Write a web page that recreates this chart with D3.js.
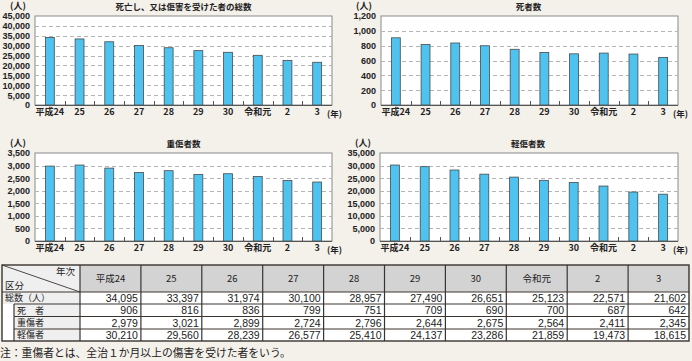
<!DOCTYPE html>
<html><head><meta charset="utf-8">
<script src="https://cdn.jsdelivr.net/npm/d3@7"></script>
<style>
html,body{margin:0;padding:0;background:#f4f0ea;}
svg{display:block;}
</style></head>
<body><svg id="c" width="692" height="361"></svg>
<script>
const years = ["平成24","25","26","27","28","29","30","令和元","2","3"];
const totals = [34095,33397,31974,30100,28957,27490,26651,25123,22571,21602];
const deaths = [906,816,836,799,751,709,690,700,687,642];
const serious = [2979,3021,2899,2724,2796,2644,2675,2564,2411,2345];
const minor = [30210,29560,28239,26577,25410,24137,23286,21859,19473,18615];
const titles = ["死亡し、又は傷害を受けた者の総数","死者数","重傷者数","軽傷者数"];
const yMax = [45000,1200,3500,35000];
const yStep = [5000,200,500,5000];
const rowLabels = ["総数（人）","死　者","重傷者","軽傷者"];
const note = "注：重傷者とは、全治１か月以上の傷害を受けた者をいう。";

const svg = d3.select("#c");
const JP = "'Noto Sans CJK JP','Noto Sans',sans-serif";
const NUM = "'Liberation Sans',Arial,sans-serif";
svg.append("rect").attr("width",692).attr("height",361).attr("fill","#f4f0ea");

const panels = [
  {vals: totals, L:35, R:332, T:16, B:105},
  {vals: deaths, L:381, R:678, T:16, B:105},
  {vals: serious, L:35, R:332, T:153, B:241},
  {vals: minor, L:380, R:678, T:153, B:241}
];

panels.forEach((p,i)=>{
  const g = svg.append("g");
  const x = d3.scaleBand().domain(years).range([p.L,p.R]).paddingInner(0.7).paddingOuter(0.35);
  const y = d3.scaleLinear().domain([0,yMax[i]]).range([p.B,p.T]);
  const ticks = d3.range(0, yMax[i]+1, yStep[i]);
  g.append("rect").attr("x",p.L).attr("y",p.T).attr("width",p.R-p.L).attr("height",p.B-p.T)
    .attr("fill","#fff").attr("stroke","#8a8a8a").attr("stroke-width",1);
  g.selectAll(".grid").data(ticks.filter(t=>t>0 && t<yMax[i])).enter().append("line")
    .attr("x1",p.L).attr("x2",p.R).attr("y1",d=>Math.round(y(d))+0.5).attr("y2",d=>Math.round(y(d))+0.5)
    .attr("stroke","#b5b5b5").attr("stroke-dasharray","4,3").attr("stroke-width",1);
  const ya = d3.axisLeft(y).tickValues(ticks).tickSize(0).tickPadding(5).tickFormat(d3.format(","));
  const ag = g.append("g").attr("transform",`translate(${p.L},0)`).call(ya);
  ag.select(".domain").remove();
  ag.selectAll("text").attr("font-family",NUM).attr("font-weight","bold").attr("font-size","9px").attr("fill","#222");
  const step = x.step();
  g.selectAll(".ct").data(years.slice(1)).enter().append("line")
    .attr("x1",d=>Math.round(x(d)-step*0.35)+0.5).attr("x2",d=>Math.round(x(d)-step*0.35)+0.5)
    .attr("y1",p.B).attr("y2",p.B-4).attr("stroke","#555").attr("stroke-width",1);
  g.selectAll(".bar").data(p.vals).enter().append("rect")
    .attr("x",(d,j)=>x(years[j])).attr("width",x.bandwidth())
    .attr("y",d=>y(d)).attr("height",d=>p.B-y(d))
    .attr("fill","#4fc3f0").attr("stroke","#4a4a4a").attr("stroke-width",0.8);
  g.append("line").attr("x1",p.L).attr("x2",p.R).attr("y1",p.B+0.5).attr("y2",p.B+0.5).attr("stroke","#555");
  const xa = d3.axisBottom(x).tickSize(0).tickPadding(4);
  const xg = g.append("g").attr("transform",`translate(0,${p.B})`).call(xa);
  xg.select(".domain").remove();
  xg.selectAll("text").attr("font-family",JP).attr("font-weight","bold").attr("font-size","9px").attr("fill","#222");
  g.append("text").attr("x",p.R-5).attr("y",p.B+12).attr("font-family",JP).attr("font-size","8.5px").attr("font-weight","bold").attr("fill","#222").text("(年)");
  g.append("text").attr("x",p.L-25).attr("y",p.T-7).attr("font-family",JP).attr("font-size","9px").attr("font-weight","bold").attr("fill","#222").text("(人)");
  g.append("text").attr("x",(p.L+p.R)/2+(i%2?-1:0)).attr("y",p.T-6.5).attr("text-anchor","middle").attr("font-family",JP).attr("font-size","8.5px").attr("font-weight","bold").attr("fill","#222").text(titles[i]);
});

// Table
const tX0 = 2, tC1 = 80, tX1 = 689;
const colW = (tX1 - tC1)/years.length;
const rowY = [265, 292, 304, 316.5, 329, 341];
const tg = svg.append("g");
const border = "#3a3431";
tg.append("rect").attr("x",tX0).attr("y",rowY[0]).attr("width",tC1-tX0).attr("height",rowY[1]-rowY[0]).attr("fill","#efefef");
years.forEach((yr,j)=>{
  tg.append("rect").attr("x",tC1+j*colW).attr("y",rowY[0]).attr("width",colW).attr("height",rowY[1]-rowY[0]).attr("fill","#d3d3d3");
  tg.append("text").attr("x",tC1+j*colW+colW/2).attr("y",(rowY[0]+rowY[1])/2+3.5).attr("text-anchor","middle")
    .attr("font-family",JP).attr("font-size","9.5px").attr("fill","#222").text(yr);
});
const series = [totals,deaths,serious,minor];
series.forEach((s,r)=>{
  const y0=rowY[r+1], y1=rowY[r+2];
  const lx = r===0 ? tX0 : 14;
  if(r>0) tg.append("rect").attr("x",tX0).attr("y",y0).attr("width",lx-tX0).attr("height",y1-y0).attr("fill","#fff");
  tg.append("rect").attr("x",lx).attr("y",y0).attr("width",tC1-lx).attr("height",y1-y0).attr("fill","#efefef");
  tg.append("text").attr("x",lx+3).attr("y",y1-2.6).attr("font-family",JP).attr("font-size","9px").attr("fill","#222").text(rowLabels[r]);
  s.forEach((v,j)=>{
    tg.append("rect").attr("x",tC1+j*colW).attr("y",y0).attr("width",colW).attr("height",y1-y0).attr("fill","#fff");
    tg.append("text").attr("x",tC1+(j+1)*colW-3).attr("y",y1-2.3).attr("text-anchor","end")
      .attr("font-family",NUM).attr("font-size","10.5px").attr("fill","#222").text(d3.format(",")(v));
  });
  tg.append("line").attr("x1",lx).attr("x2",tX1).attr("y1",y0).attr("y2",y0).attr("stroke",border).attr("stroke-width",1.2);
  if(r>0) tg.append("line").attr("x1",lx).attr("x2",lx).attr("y1",y0).attr("y2",y1).attr("stroke",border).attr("stroke-width",1.2);
});
tg.append("line").attr("x1",tC1).attr("x2",tC1).attr("y1",rowY[0]).attr("y2",rowY[5]).attr("stroke",border).attr("stroke-width",1.2);
years.forEach((yr,j)=>{
  if(j>0) tg.append("line").attr("x1",tC1+j*colW).attr("x2",tC1+j*colW).attr("y1",rowY[0]).attr("y2",rowY[5]).attr("stroke",border).attr("stroke-width",1.2);
});
tg.append("rect").attr("x",tX0).attr("y",rowY[0]).attr("width",tX1-tX0).attr("height",rowY[5]-rowY[0]).attr("fill","none").attr("stroke",border).attr("stroke-width",1.4);
tg.append("line").attr("x1",tX0).attr("y1",rowY[0]).attr("x2",tC1).attr("y2",rowY[1]).attr("stroke",border).attr("stroke-width",0.9);
tg.append("text").attr("x",tC1-5).attr("y",rowY[0]+10).attr("text-anchor","end").attr("font-family",JP).attr("font-size","9.5px").attr("fill","#222").text("年次");
tg.append("text").attr("x",tX0+3).attr("y",rowY[1]-3).attr("font-family",JP).attr("font-size","9.5px").attr("fill","#222").text("区分");
svg.append("text").attr("x",0).attr("y",357).attr("font-family",JP).attr("font-size","10.8px").attr("fill","#222").text(note);
</script></body></html>
